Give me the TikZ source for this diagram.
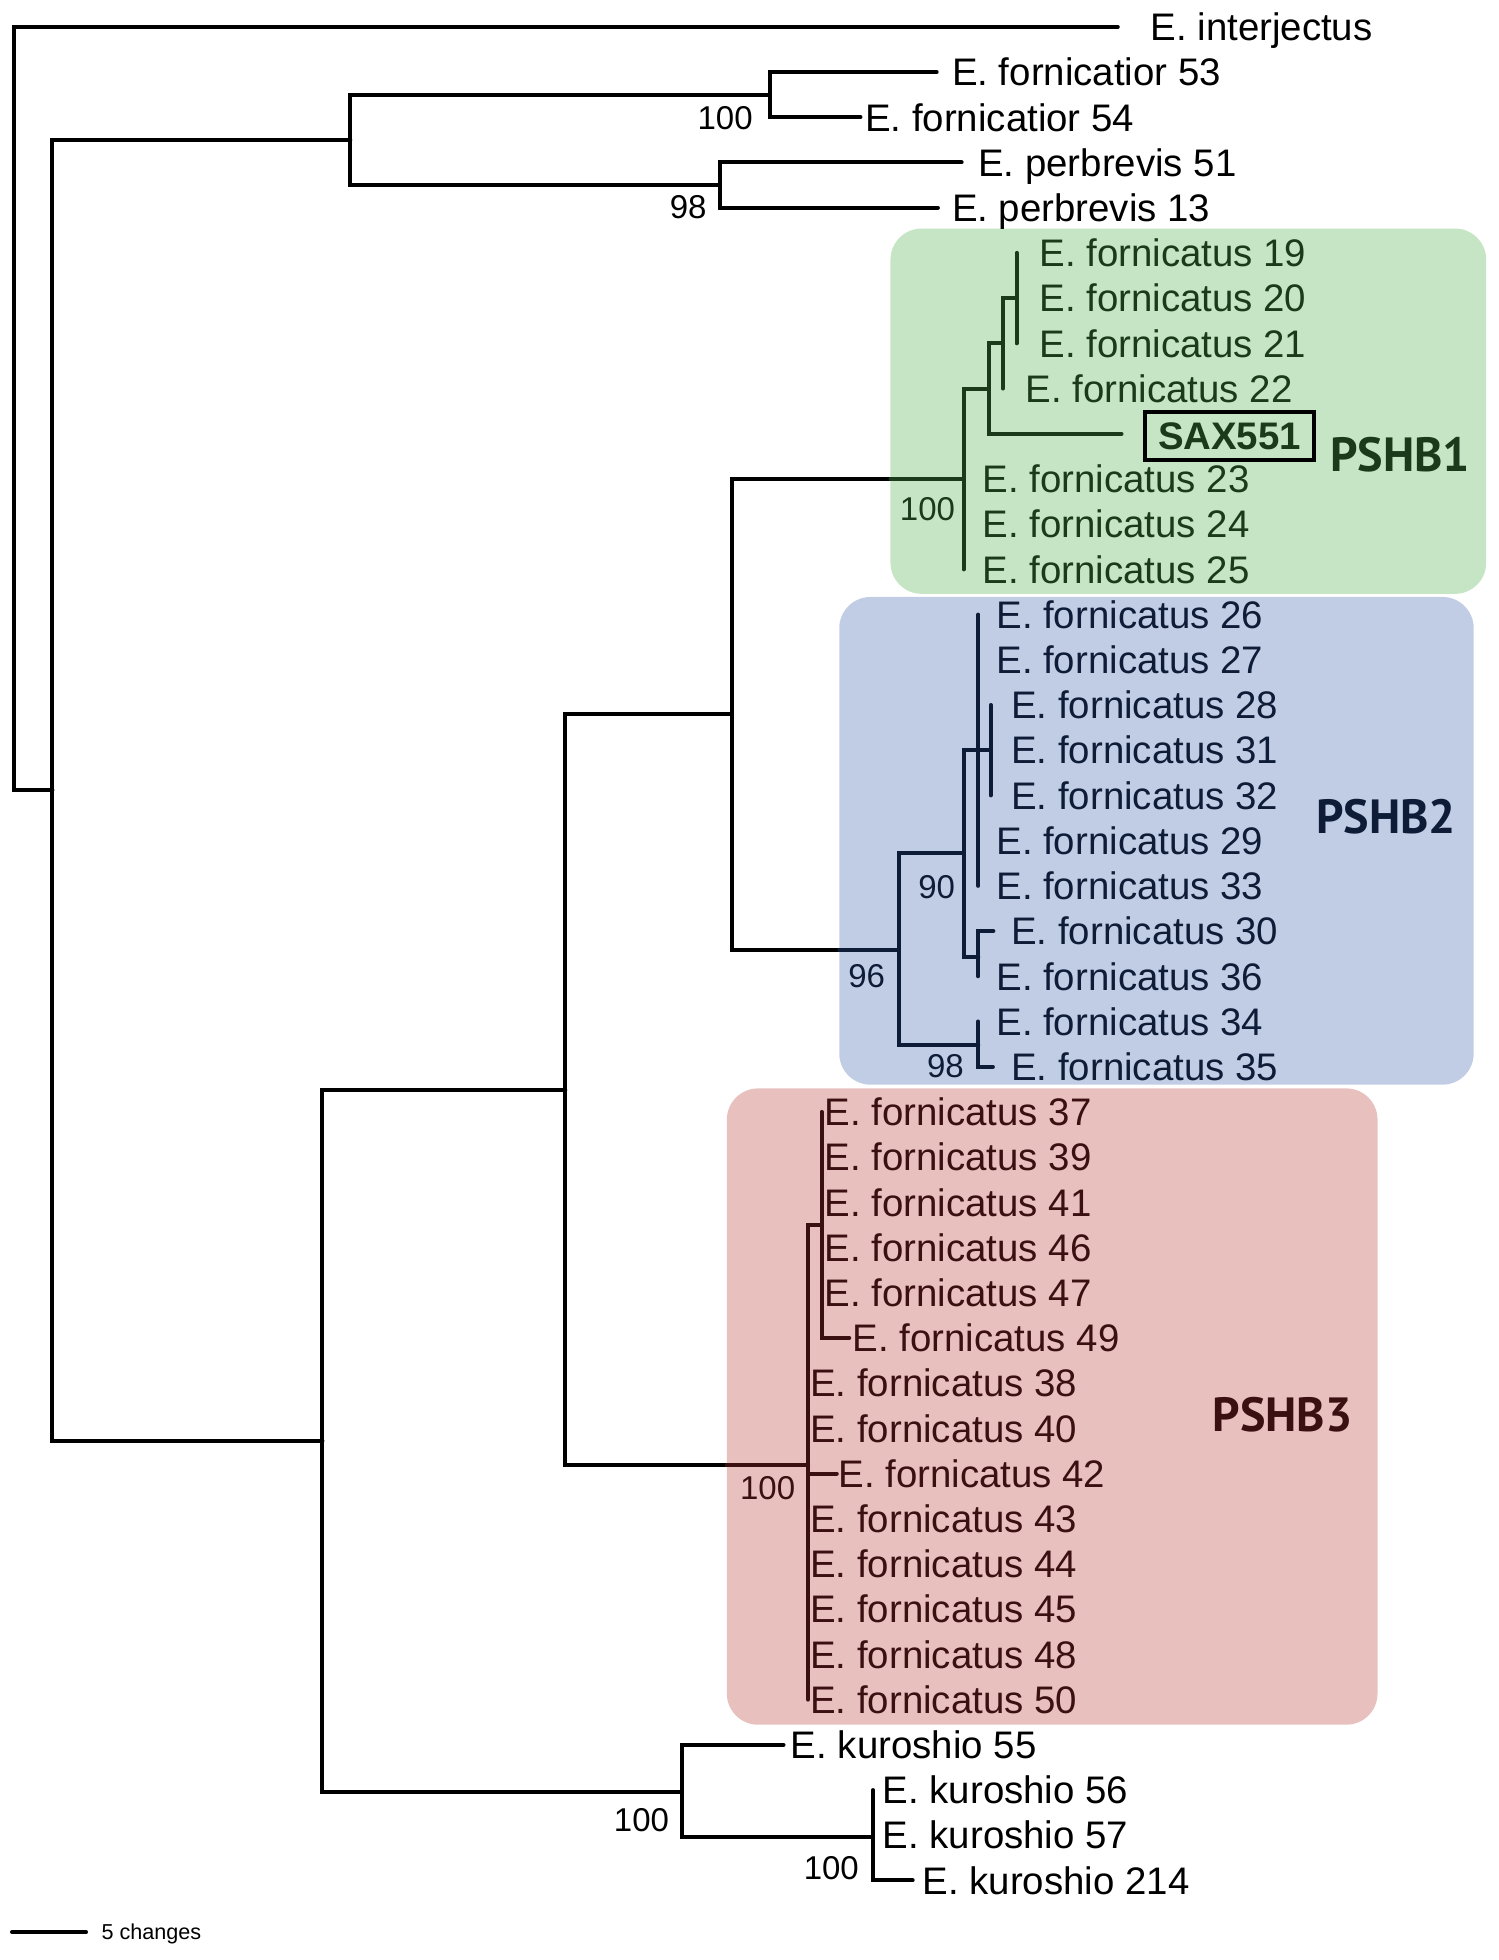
\documentclass[tikz,border=0pt]{standalone}
\usepackage{fontspec}
\setmainfont{Liberation Sans}
\newfontfamily\pshbfont{PT Sans}
\definecolor{gbg}{RGB}{197,229,196}
\definecolor{bbg}{RGB}{193,205,228}
\definecolor{pbg}{RGB}{232,192,190}
\definecolor{gfg}{RGB}{27,58,27}
\definecolor{bfg}{RGB}{14,28,56}
\definecolor{pfg}{RGB}{58,16,16}
\newcommand\labfont{\fontsize{19.2}{23}\selectfont}
\newcommand\bsfont{\fontsize{16.5}{20}\selectfont}
\newcommand\cladefont{\pshbfont\bfseries\fontsize{24}{28}\selectfont}
\begin{document}
\begin{tikzpicture}[x=0.6245pt,y=-0.6245pt,
  br/.style={line width=2pt,line cap=round},
  lab/.style={anchor=base west,inner sep=0pt,font=\labfont},
  bs/.style={anchor=east,inner sep=0pt,font=\bsfont},
  clade/.style={anchor=center,inner sep=0pt,font=\cladefont},
  cbox/.style={rounded corners=15.6pt,draw=none}]
\useasboundingbox (0,0) rectangle (1200,1569.4);
% clade boxes
\fill[gbg,cbox] (713,183) rectangle (1190,475.5);
\fill[bbg,cbox] (672,478) rectangle (1180,868.5);
\fill[pbg,cbox] (582,871.5) rectangle (1103,1381);
% internal nodes and tips
\coordinate (Root) at (11.5,327.5);
\coordinate (tInt) at (895,21.5);
\coordinate (B) at (42,632.8);
\coordinate (A) at (280.5,112);
\coordinate (N1) at (616.5,75.8);
\coordinate (t53) at (750,57.7);
\coordinate (t54) at (689,93.9);
\coordinate (N2) at (576.5,148.2);
\coordinate (t51) at (770,130.1);
\coordinate (t13) at (751,166.3);
\coordinate (C) at (258.2,1153.6);
\coordinate (D) at (452.6,872.7);
\coordinate (E) at (586,572);
\coordinate (P1) at (771.5,383.5);
\coordinate (Q1) at (791.5,311.1);
\coordinate (Q2) at (803,274.9);
\coordinate (Q3) at (814,238.7);
\coordinate (t19) at (814,202.5);
\coordinate (t20) at (814,238.7);
\coordinate (t21) at (814,274.9);
\coordinate (t22) at (803,311.1);
\coordinate (tSAX) at (898,347.3);
\coordinate (t23) at (771.5,383.5);
\coordinate (t24) at (771.5,419.7);
\coordinate (t25) at (771.5,455.9);
\coordinate (P2) at (719.5,760.5);
\coordinate (R1) at (771.8,683.4);
\coordinate (R2) at (783.3,600.7);
\coordinate (R3) at (793.3,600.7);
\coordinate (t26) at (783.3,492.1);
\coordinate (t27) at (783.3,528.3);
\coordinate (t28) at (793.3,564.5);
\coordinate (t31) at (793.3,600.7);
\coordinate (t32) at (793.3,636.9);
\coordinate (t29) at (783.3,673.1);
\coordinate (t33) at (783.3,709.3);
\coordinate (R4) at (783.3,766);
\coordinate (t30) at (795.4,745.5);
\coordinate (t36) at (783.3,781.7);
\coordinate (R5) at (783.3,837);
\coordinate (t34) at (783.3,817.9);
\coordinate (t35) at (795,854.1);
\coordinate (P3) at (647,1173.3);
\coordinate (S1) at (657.8,980.8);
\coordinate (t37) at (657.8,890.3);
\coordinate (t39) at (657.8,926.5);
\coordinate (t41) at (657.8,962.7);
\coordinate (t46) at (657.8,998.9);
\coordinate (t47) at (657.8,1035.1);
\coordinate (t49) at (680,1071.3);
\coordinate (t38) at (647,1107.5);
\coordinate (t40) at (647,1143.7);
\coordinate (t42) at (670,1179.9);
\coordinate (t43) at (647,1216.1);
\coordinate (t44) at (647,1252.3);
\coordinate (t45) at (647,1288.5);
\coordinate (t48) at (647,1324.7);
\coordinate (t50) at (647,1360.9);
\coordinate (F) at (545.7,1434.5);
\coordinate (t55) at (627.4,1397.1);
\coordinate (G) at (699,1471);
\coordinate (t56) at (699,1433.3);
\coordinate (t57) at (699,1469.5);
\coordinate (t214) at (730.8,1505.7);
\coordinate (b1) at (713,383.5);
\coordinate (b2) at (672,760.5);
\coordinate (b3) at (582,1173.3);
\coordinate (sb1) at (9.6,1547);
\coordinate (sb2) at (68.9,1547);
% black branches
\foreach \a/\b in {Root/tInt,Root/B,B/A,B/C,A/N1,A/N2,N1/t53,N1/t54,N2/t51,N2/t13,
  C/D,C/F,D/E,D/P3,E/P1,E/P2,F/t55,F/G,G/t56,G/t57,G/t214}
  \draw[br] (\a) |- (\b);
% PSHB1
\draw[br,gfg] (b1) -- (P1);
\foreach \a/\b in {P1/Q1,P1/t23,P1/t24,P1/t25,Q1/Q2,Q1/tSAX,Q2/Q3,Q2/t22,Q3/t19,Q3/t20,Q3/t21}
  \draw[br,gfg] (\a) |- (\b);
% PSHB2
\draw[br,bfg] (b2) -- (P2);
\foreach \a/\b in {P2/R1,P2/R5,R1/R2,R1/R4,R2/R3,R2/t26,R2/t27,R2/t29,R2/t33,
  R3/t28,R3/t31,R3/t32,R4/t30,R4/t36,R5/t34,R5/t35}
  \draw[br,bfg] (\a) |- (\b);
% PSHB3
\draw[br,pfg] (b3) -- (P3);
\foreach \a/\b in {P3/S1,P3/t38,P3/t40,P3/t42,P3/t43,P3/t44,P3/t45,P3/t48,P3/t50,
  S1/t37,S1/t39,S1/t41,S1/t46,S1/t47,S1/t49}
  \draw[br,pfg] (\a) |- (\b);
% scale bar
\draw[br] (sb1) -- (sb2);
\node[anchor=base west,inner sep=0pt,font=\fontsize{10.8}{13}\selectfont] (sbl) at (81,1553.2) {5 changes};
% labels
\node[lab] (lInt) at (921,32.5) {E. interjectus};
\node[lab] (l53) at (762,68.7) {E. fornicatior 53};
\node[lab] (l54) at (692.5,104.9) {E. fornicatior 54};
\node[lab] (l51) at (783,141.1) {E. perbrevis 51};
\node[lab] (l13) at (762,177.3) {E. perbrevis 13};
\begin{scope}[every node/.append style={text=gfg}]
\node[lab] (l19) at (832,213.5) {E. fornicatus 19};
\node[lab] (l20) at (832,249.7) {E. fornicatus 20};
\node[lab] (l21) at (832,285.9) {E. fornicatus 21};
\node[lab] (l22) at (821,322.1) {E. fornicatus 22};
\node[draw=black,line width=2pt,minimum width=84.9pt,minimum height=23.7pt,inner sep=0pt,
  font=\labfont\bfseries] (lSAX) at (984.5,349) {SAX551};
\node[lab] (l23) at (786.5,394.5) {E. fornicatus 23};
\node[lab] (l24) at (786.5,430.7) {E. fornicatus 24};
\node[lab] (l25) at (786.5,466.9) {E. fornicatus 25};
\node[bs] (bs3) at (765,408) {100};
\node[clade] (c1) at (1121,364) {PSHB1};
\end{scope}
\begin{scope}[every node/.append style={text=bfg}]
\node[lab] (l26) at (797.5,503.1) {E. fornicatus 26};
\node[lab] (l27) at (797.5,539.3) {E. fornicatus 27};
\node[lab] (l28) at (809.5,575.5) {E. fornicatus 28};
\node[lab] (l31) at (809.5,611.7) {E. fornicatus 31};
\node[lab] (l32) at (809.5,647.9) {E. fornicatus 32};
\node[lab] (l29) at (797.5,684.1) {E. fornicatus 29};
\node[lab] (l33) at (797.5,720.3) {E. fornicatus 33};
\node[lab] (l30) at (809.5,756.5) {E. fornicatus 30};
\node[lab] (l36) at (797.5,792.7) {E. fornicatus 36};
\node[lab] (l34) at (797.5,828.9) {E. fornicatus 34};
\node[lab] (l35) at (809.5,865.1) {E. fornicatus 35};
\node[bs] (bs4) at (765,710) {90};
\node[bs] (bs5) at (709,782) {96};
\node[bs] (bs6) at (772,854) {98};
\node[clade] (c2) at (1110,654) {PSHB2};
\end{scope}
\begin{scope}[every node/.append style={text=pfg}]
\node[lab] (l37) at (660,901.3) {E. fornicatus 37};
\node[lab] (l39) at (660,937.5) {E. fornicatus 39};
\node[lab] (l41) at (660,973.7) {E. fornicatus 41};
\node[lab] (l46) at (660,1009.9) {E. fornicatus 46};
\node[lab] (l47) at (660,1046.1) {E. fornicatus 47};
\node[lab] (l49) at (682.5,1082.3) {E. fornicatus 49};
\node[lab] (l38) at (648.5,1118.5) {E. fornicatus 38};
\node[lab] (l40) at (648.5,1154.7) {E. fornicatus 40};
\node[lab] (l42) at (671,1190.9) {E. fornicatus 42};
\node[lab] (l43) at (648.5,1227.1) {E. fornicatus 43};
\node[lab] (l44) at (648.5,1263.3) {E. fornicatus 44};
\node[lab] (l45) at (648.5,1299.5) {E. fornicatus 45};
\node[lab] (l48) at (648.5,1335.7) {E. fornicatus 48};
\node[lab] (l50) at (648.5,1371.9) {E. fornicatus 50};
\node[bs] (bs7) at (637,1191.6) {100};
\node[clade] (c3) at (1027,1133) {PSHB3};
\end{scope}
\node[lab] (l55) at (633,1408.1) {E. kuroshio 55};
\node[lab] (l56) at (706.5,1444.3) {E. kuroshio 56};
\node[lab] (l57) at (706.5,1480.5) {E. kuroshio 57};
\node[lab] (l214) at (738.5,1516.7) {E. kuroshio 214};
% bootstrap values
\node[bs] (bs1) at (603,94.5) {100};
\node[bs] (bs2) at (566,166) {98};
\node[bs] (bs8) at (536,1457) {100};
\node[bs] (bs9) at (688,1495.6) {100};
\end{tikzpicture}
\end{document}
